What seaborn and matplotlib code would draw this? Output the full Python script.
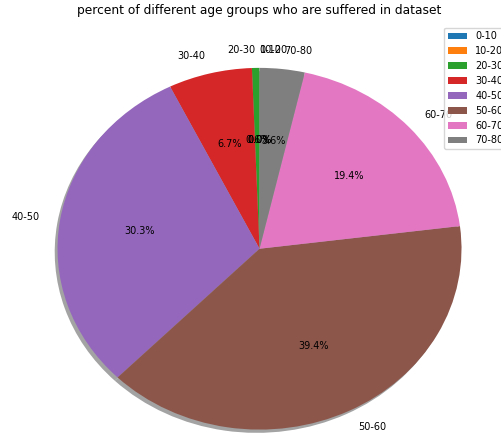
import numpy as np
import seaborn as sns
import matplotlib
matplotlib.use("Agg")
import matplotlib.pyplot as plt

age_groups = ["0-10", "10-20", "20-30", "30-40", "40-50", "50-60", "60-70", "70-80"]
percents = [0.0, 0.0, 0.6, 6.7, 30.3, 39.4, 19.4, 3.6]

sns.set_style("white")
plt.rcParams["font.size"] = 7
plt.rcParams["text.color"] = "black"
colors = sns.color_palette("tab10", len(age_groups))

fig = plt.figure(figsize=(5.01, 4.36), dpi=100)
# axes run a bit past the figure edges, the original picture was cropped
ax = fig.add_axes([0.014, -0.089, 1.008, 1.037])
wedges, texts, autotexts = ax.pie(
    percents, labels=age_groups, colors=colors, autopct="%1.1f%%",
    startangle=90, textprops={"fontsize": 7},
    wedgeprops={"linewidth": 0},
    shadow={"ox": -0.01, "oy": -0.013, "facecolor": "0.55",
            "edgecolor": "none", "alpha": 0.8})

# empty wedges at the top: labels start at the centre line, like the original
for t in texts:
    x, y = t.get_position()
    if abs(x) < 1e-6:
        t.set_horizontalalignment("left")

ax.set_aspect("auto")
ax.set_xlim(-1.25, 1.25)
ax.set_ylim(-1.25, 1.25)
ax.legend(age_groups, loc="upper right", fontsize=7)
ax.set_title("percent of different age groups who are suffered in dataset", fontsize=8.8)

fig.savefig("out.png", dpi=100)
